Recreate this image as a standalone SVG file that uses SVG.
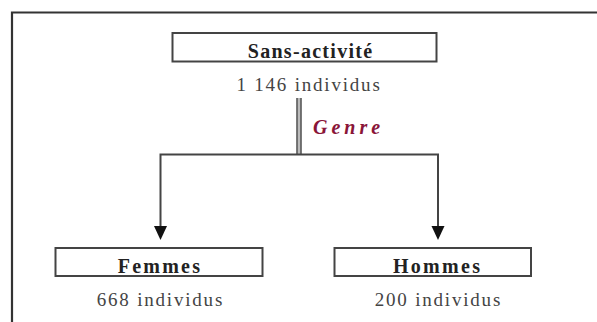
<svg xmlns="http://www.w3.org/2000/svg" width="597" height="322" viewBox="0 0 597 322">
<style>
.box{fill:#fff;stroke:#444;stroke-width:2}
.lbl{font-family:"Liberation Serif","Times New Roman",serif;font-weight:bold;fill:#222;text-anchor:middle;font-size:20px}
.cnt{font-family:"Liberation Serif","Times New Roman",serif;fill:#444;text-anchor:middle;font-size:19px;letter-spacing:1.8px}
.ln{stroke:#444;stroke-width:2;fill:none}
.ah{fill:#111}
</style>
<rect width="597" height="322" fill="#fff"/>
<g id="frame">
<path d="M12 322 V12.5 H597" fill="none" stroke="#333" stroke-width="2.2"/>
</g>
<g id="connectors">
<rect x="296.5" y="98" width="5" height="57" fill="#bbb"/>
<line x1="297" y1="98" x2="297" y2="155" stroke="#444" stroke-width="1.3"/>
<line x1="301" y1="98" x2="301" y2="155" stroke="#444" stroke-width="1.3"/>
<path class="ln" d="M160.5 227 V154.5 H438 V227"/>
<polygon class="ah" points="154,226 167,226 160.5,240"/>
<polygon class="ah" points="431.5,226 444.5,226 438,240"/>
<text x="348.5" y="134" font-family="'Liberation Serif','Times New Roman',serif" font-weight="bold" font-style="italic" font-size="20" letter-spacing="4" fill="#8a1538" text-anchor="middle">Genre</text>
</g>
<g id="sans-activite">
<rect class="box" x="172.5" y="33" width="264" height="28.5"/>
<text class="lbl" x="310.6" y="57.5" letter-spacing="1.3">Sans-activité</text>
<text class="cnt" x="309" y="91">1 146 individus</text>
</g>
<g id="femmes">
<rect class="box" x="55.5" y="248" width="207" height="28"/>
<text class="lbl" x="160" y="272.5" letter-spacing="2.2">Femmes</text>
<text class="cnt" x="160.4" y="306">668 individus</text>
</g>
<g id="hommes">
<rect class="box" x="334.5" y="248" width="196.5" height="28"/>
<text class="lbl" x="437.6" y="272.5" letter-spacing="2.3">Hommes</text>
<text class="cnt" x="438.4" y="306">200 individus</text>
</g>
</svg>
